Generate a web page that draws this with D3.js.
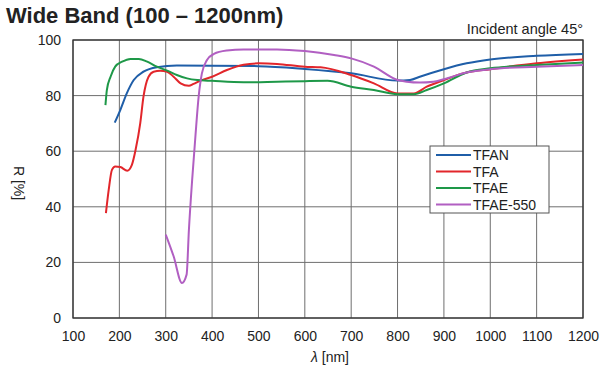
<!DOCTYPE html>
<html>
<head>
<meta charset="utf-8">
<script src="https://cdn.jsdelivr.net/npm/d3@7"></script>
<style>
  body { margin: 0; background: #fff; }
  svg text { font-family: "Liberation Sans", Arial, sans-serif; fill: #222; }
</style>
</head>
<body>
<svg id="chart" width="600" height="375"></svg>
<script>
// wavelength ticks / reflectance ticks
var xTicks = [100, 200, 300, 400, 500, 600, 700, 800, 900, 1000, 1100, 1200];
var yTicks = [0, 20, 40, 60, 80, 100];

// TFAN
var tfanX = [190, 202, 216, 231, 252, 281, 324, 400, 500, 600, 700, 800, 827, 848, 900, 949, 1000, 1100, 1200];
var tfanY = [70.3, 74.8, 80.8, 85.6, 88.6, 90.2, 90.8, 90.7, 90.6, 89.6, 88, 85.4, 85.6, 86.8, 89.5, 91.6, 93, 94.3, 95];
// TFA
var tfaX = [171, 177, 184, 191, 202, 217, 227, 235, 245, 252, 263, 274, 288, 303, 317, 332, 350, 360, 375, 400, 432, 468, 500, 540, 600, 634, 700, 749, 800, 835, 863, 900, 949, 1000, 1100, 1200];
var tfaY = [37.7, 46.1, 53.3, 54.5, 54.3, 53, 55.1, 60.5, 70, 79.6, 86.8, 88.6, 88.9, 88.6, 86.8, 84.4, 83.5, 84.2, 85.4, 86.8, 89.2, 91.1, 91.6, 91.4, 90.4, 90.2, 87.4, 84.4, 80.8, 80.8, 83.2, 85.6, 88.3, 89.5, 91.6, 93];
// TFAE
var tfaeX = [170, 173, 181, 191, 206, 224, 242, 260, 281, 303, 324, 346, 368, 400, 468, 540, 600, 649, 700, 749, 800, 835, 863, 900, 949, 1000, 1100, 1200];
var tfaeY = [76.6, 82, 86.8, 90.4, 92.2, 93.2, 93.2, 92.2, 90.4, 89, 87.4, 86.2, 85.6, 85.3, 84.8, 85, 85.2, 85.3, 83.2, 82, 80.5, 80.5, 82, 84.4, 88.3, 89.8, 91, 91.9];
// TFAE-550
var tfae550X = [300, 317, 335, 345, 350, 357, 364, 371, 378, 389, 404, 432, 468, 540, 600, 663, 700, 749, 800, 820, 848, 877, 900, 949, 1000, 1100, 1200];
var tfae550Y = [30, 22.2, 12.6, 15.6, 31.7, 49.7, 65.3, 79.6, 88, 92.8, 95, 96.2, 96.6, 96.6, 96, 94.6, 93.4, 90.4, 85.6, 85, 84.7, 85, 85.9, 88.3, 89.5, 90.4, 91];

var seriesNames = ["TFAN", "TFA", "TFAE", "TFAE-550"];
var seriesColors = ["#1f5ea8", "#e2262b", "#1e9848", "#b15fc2"];
var seriesX = [tfanX, tfaX, tfaeX, tfae550X];
var seriesY = [tfanY, tfaY, tfaeY, tfae550Y];

var svg = d3.select("#chart");
var margin = { top: 40, right: 17, bottom: 57, left: 73 };
var width = 600, height = 375;

var x = d3.scaleLinear().domain([100, 1200]).range([margin.left, width - margin.right]);
var y = d3.scaleLinear().domain([0, 100]).range([height - margin.bottom, margin.top]);

// grid
svg.append("g").selectAll("line").data(xTicks).join("line")
    .attr("x1", d => x(d)).attr("x2", d => x(d))
    .attr("y1", y(0)).attr("y2", y(100))
    .attr("stroke", "#6e6e6e").attr("stroke-width", 1);
svg.append("g").selectAll("line").data(yTicks).join("line")
    .attr("x1", x(100)).attr("x2", x(1200))
    .attr("y1", d => y(d)).attr("y2", d => y(d))
    .attr("stroke", "#6e6e6e").attr("stroke-width", 1);
svg.append("rect")
    .attr("x", x(100)).attr("y", y(100))
    .attr("width", x(1200) - x(100)).attr("height", y(0) - y(100))
    .attr("fill", "none").attr("stroke", "#333").attr("stroke-width", 1.3);

// axes (labels only)
var xAxis = d3.axisBottom(x).tickValues(xTicks).tickFormat(d3.format("d")).tickSize(0).tickPadding(13);
svg.append("g").attr("transform", `translate(0,${y(0)})`).call(xAxis)
    .call(g => g.select(".domain").remove())
    .selectAll("text").style("font-size", "14px").attr("fill", "#222");
var yAxis = d3.axisLeft(y).tickValues(yTicks).tickSize(0).tickPadding(12);
svg.append("g").attr("transform", `translate(${x(100)},0)`).call(yAxis)
    .call(g => g.select(".domain").remove())
    .selectAll("text").style("font-size", "14px").attr("fill", "#222");

// curves
var line = d3.line().x(d => x(d[0])).y(d => y(d[1])).curve(d3.curveMonotoneX);
seriesNames.forEach(function (name, i) {
    var pts = seriesX[i].map((v, j) => [v, seriesY[i][j]]);
    svg.append("path").datum(pts)
        .attr("d", line)
        .attr("fill", "none")
        .attr("stroke", seriesColors[i])
        .attr("stroke-width", 2);
});

// legend
var lg = svg.append("g").attr("transform", "translate(430,146)");
lg.append("rect").attr("width", 119).attr("height", 67)
    .attr("fill", "#fff").attr("stroke", "#555").attr("stroke-width", 1);
seriesNames.forEach(function (name, i) {
    var yy = 9 + i * 16.5;
    lg.append("line").attr("x1", 6).attr("x2", 41).attr("y1", yy).attr("y2", yy)
        .attr("stroke", seriesColors[i]).attr("stroke-width", 2);
    lg.append("text").attr("x", 43).attr("y", yy + 5).text(name)
        .style("font-size", "14px");
});

// titles
svg.append("text").attr("x", 6).attr("y", 23)
    .text("Wide Band (100 \u2013 1200nm)")
    .style("font-size", "22px").style("font-weight", "bold");
svg.append("text").attr("x", 583).attr("y", 34).attr("text-anchor", "end")
    .text("Incident angle 45\u00b0").style("font-size", "14.5px");
svg.append("text").attr("transform", "translate(14,183) rotate(90)")
    .attr("text-anchor", "middle")
    .text("R [%]").style("font-size", "14px");
svg.append("text").attr("x", 330).attr("y", 362).attr("text-anchor", "middle")
    .style("font-size", "14px")
    .html('<tspan font-style="italic">\u03bb</tspan>  [nm]');
</script>
</body>
</html>
